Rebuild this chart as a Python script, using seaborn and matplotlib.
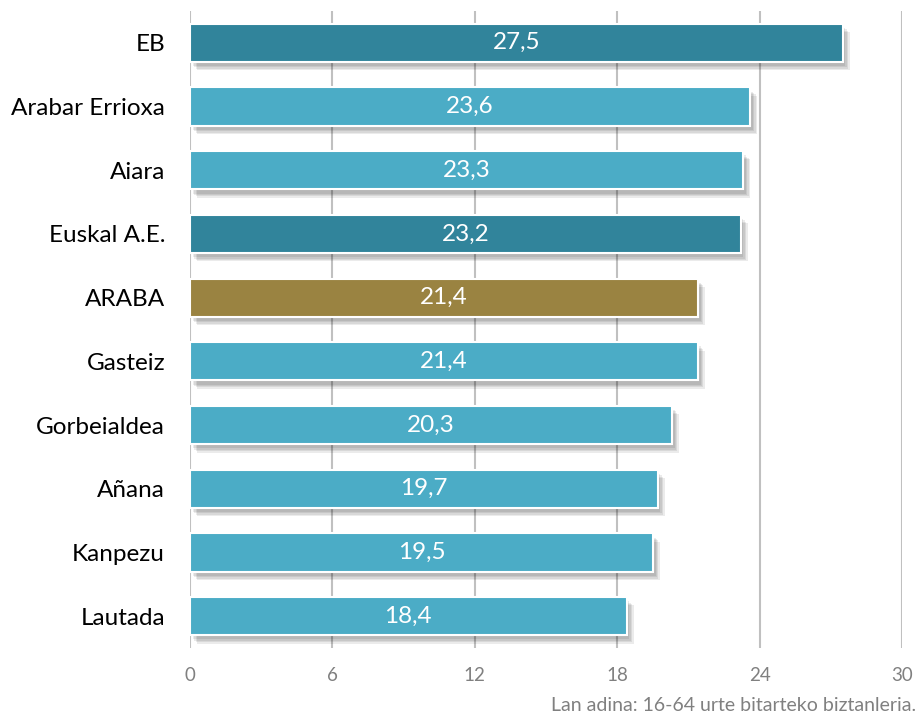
import matplotlib
matplotlib.use("Agg")
import matplotlib.pyplot as plt
import matplotlib.patheffects as pe
import pandas as pd
import seaborn as sns

regions = ['EB', 'Arabar Errioxa', 'Aiara', 'Euskal A.E.', 'ARABA', 'Gasteiz',
           'Gorbeialdea', 'Añana', 'Kanpezu', 'Lautada']
values = [27.5, 23.6, 23.3, 23.2, 21.4, 21.4, 20.3, 19.7, 19.5, 18.4]
groups = ['ref', 'eskualde', 'eskualde', 'ref', 'araba', 'eskualde',
          'eskualde', 'eskualde', 'eskualde', 'eskualde']
palette = {'ref': '#31849B', 'eskualde': '#4BACC6', 'araba': '#9A8341'}
xticks = [0, 6, 12, 18, 24, 30]

data = pd.DataFrame({'region': regions, 'value': values, 'group': groups})

sns.set_style('white')
plt.rcParams['font.family'] = ['Lato', 'DejaVu Sans']

fig = plt.figure(figsize=(9.21, 7.17), dpi=100)
ax = fig.add_axes([0.2063, 0.0962, 0.7731, 0.8885])

sns.barplot(data=data, x='value', y='region', hue='group', palette=palette,
            saturation=1, dodge=False, width=0.6, legend=False, ax=ax, zorder=3)

# soft shadow: a few stacked offsets
shadow = [pe.SimplePatchShadow(offset=(d, -d - 1), shadow_rgbFace='black', alpha=0.08)
          for d in (5, 4, 3, 2)]
for bar in ax.patches:
    bar.set_edgecolor('white')
    bar.set_linewidth(1.5)
    bar.set_path_effects(shadow + [pe.Normal()])

for i, v in enumerate(values):
    ax.text(v / 2, i, f'{v:.1f}'.replace('.', ','), ha='center', va='center',
            color='white', fontsize=17.5, zorder=5)

ax.set_xlim(0, 30)
ax.set_ylim(9.5, -0.5)
ax.set_xticks(xticks)
ax.set_xticklabels([str(t) for t in xticks], color='#808080', fontsize=13.5)
ax.tick_params(axis='y', labelsize=17.5, colors='black', length=0, pad=18)
ax.tick_params(axis='x', length=0, pad=14)
ax.set_xlabel('')
ax.set_ylabel('')
ax.grid(axis='x', color='#c0c0c0', linewidth=1.5, zorder=0)
ax.grid(axis='y', visible=False)
for s in ax.spines.values():
    s.set_visible(False)

fig.text(0.995, 0.004, 'Lan adina: 16-64 urte bitarteko biztanleria.', ha='right', va='bottom',
         color='#808080', fontsize=14)

fig.savefig('out.png', dpi=100)
